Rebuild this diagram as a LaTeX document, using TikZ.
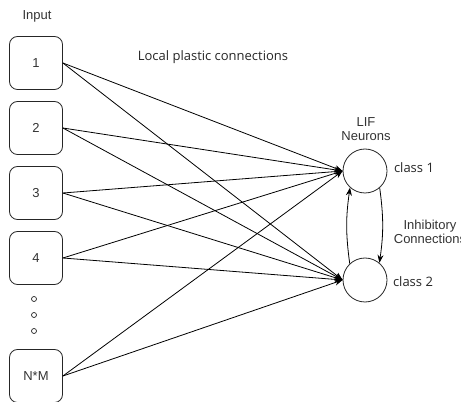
\documentclass[tikz,border=0pt]{standalone}
\usepackage{fontspec}
\setmainfont{Liberation Sans}
\newfontfamily\segoe{Open Sans}
\usetikzlibrary{arrows.meta}
\begin{document}
\begin{tikzpicture}[x=1pt,y=1pt,
  inbox/.style={draw=black!85,line width=0.8pt,rounded corners=8pt,minimum width=53pt,minimum height=53pt,inner sep=0pt,font=\fontsize{13}{15}\selectfont,text=black!80},
  neuron/.style={draw=black!85,line width=0.8pt,circle,minimum size=44pt,inner sep=0pt},
  lbl/.style={font=\fontsize{13}{14.5}\selectfont,text=black!80,inner sep=0pt},
  slbl/.style={font=\segoe\fontsize{13}{15}\selectfont,text=black!85,inner sep=0pt},
  arr/.style={line width=0.8pt,draw=black,-{Stealth[length=8pt,width=6pt]}}]
\useasboundingbox (0,0) rectangle (461,402);
\node[lbl] (inp) at (37,386) {Input};
\node[inbox] (b1) at (36,339) {1};
\node[inbox] (b2) at (36,274) {2};
\node[inbox] (b3) at (36,209) {3};
\node[inbox] (b4) at (36,144) {4};
\node[inbox] (bn) at (36,26) {N*M};
\foreach \i/\yy in {1/103,2/87,3/71} {\node[draw=black!85,circle,line width=0.7pt,minimum size=5pt,inner sep=0pt] (d\i) at (34,\yy) {};}
\node[neuron] (c1) at (365,231) {};
\node[neuron] (c2) at (365,122) {};
\node[slbl] (lpc) at (213,345) {Local plastic connections};
\node[lbl,align=center] (lif) at (366,273) {LIF\\Neurons};
\node[slbl] (cl1) at (414,234) {class 1};
\node[slbl] (cl2) at (413,120) {class 2};
\node[lbl,align=center] (inh) at (430,170) {Inhibitory\\Connections};
\foreach \b in {b1,b2,b3,b4,bn} {
  \draw[arr] (\b.east) -- (c1.west);
  \draw[arr] (\b.east) -- (c2.west);
}
\draw[arr] (c2.133) to[bend left=8] (c1.228);
\draw[arr] (c1.311) to[bend left=8] (c2.50);
\end{tikzpicture}
\end{document}
